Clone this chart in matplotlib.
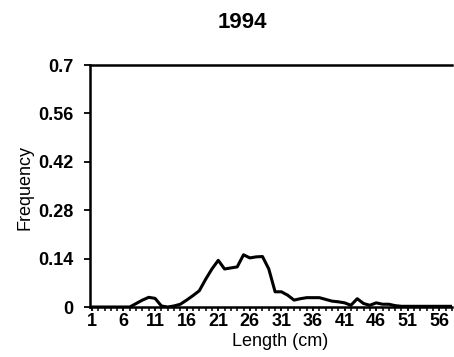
import numpy as np
import matplotlib.pyplot as plt

plt.rcParams['font.family'] = ['Liberation Sans', 'DejaVu Sans']

# length classes (cm) and frequency
length = list(range(1, 59))
freq = [0, 0, 0, 0, 0, 0, 0, 0.01, 0.02, 0.028,
        0.025, 0.003, 0, 0.003, 0.008, 0.02, 0.033, 0.047, 0.08, 0.11,
        0.135, 0.11, 0.113, 0.116, 0.151, 0.142, 0.145, 0.146, 0.11, 0.044,
        0.044, 0.034, 0.02, 0.024, 0.027, 0.027, 0.027, 0.022, 0.017, 0.015,
        0.012, 0.005, 0.024, 0.01, 0.005, 0.012, 0.008, 0.008, 0.004, 0.002,
        0.002, 0.002, 0.002, 0.002, 0.002, 0.002, 0.002, 0.002]
yticks = [0, 0.14, 0.28, 0.42, 0.56, 0.7]
ytick_labels = ['0', '0.14', '0.28', '0.42', '0.56', '0.7']
xtick_major = list(range(1, 57, 5))

fig = plt.figure(figsize=(4.54, 3.57), dpi=100)
ax = fig.add_axes([90/454, 50/357, 362/454, 242/357])

ax.plot(length, freq, color='black', lw=2.2)

ax.set_xlim(0.7, 57.6)
ax.set_ylim(0, 0.7)
ax.set_yticks(yticks)
ax.set_yticklabels(ytick_labels, fontweight='bold')
ax.set_xticks(xtick_major)
ax.set_xticklabels([str(v) for v in xtick_major], fontweight='bold')
ax.set_xticks(length, minor=True)

ax.tick_params(axis='y', direction='out', length=4, width=1.3, labelsize=13, pad=8)
ax.tick_params(axis='x', which='major', direction='out', length=3, width=1.3, labelsize=13, pad=1)
ax.tick_params(axis='x', which='minor', direction='out', length=3, width=1.1)

for s in ['left', 'bottom', 'top']:
    ax.spines[s].set_linewidth(1.8)
ax.spines['right'].set_visible(False)

fig.text(242/454, 1 - 22/357, '1994', ha='center', va='center', fontsize=16, fontweight='bold')
fig.text(280/454, 1 - 342/357, 'Length (cm)', ha='center', va='center', fontsize=13)
fig.text(25/454, 1 - 187/357, 'Frequency', ha='center', va='center', rotation=90, fontsize=13)

plt.savefig('out.png', dpi=100)
